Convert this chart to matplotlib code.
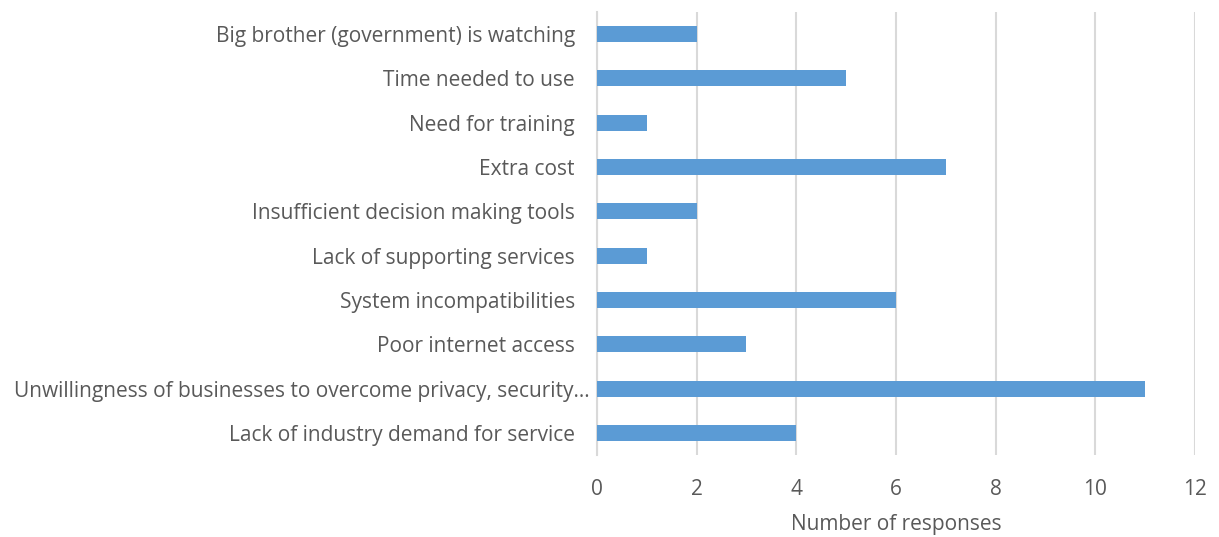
import matplotlib
matplotlib.use("Agg")
import matplotlib.pyplot as plt
import matplotlib.transforms as mtransforms

# survey: barriers to adopting the service (listed bottom to top)
barriers = [
    "Lack of industry demand for service",
    "Unwillingness of businesses to overcome privacy, security\u2026",
    "Poor internet access",
    "System incompatibilities",
    "Lack of supporting services",
    "Insufficient decision making tools",
    "Extra cost",
    "Need for training",
    "Time needed to use",
    "Big brother (government) is watching",
]
responses = [4, 11, 3, 6, 1, 2, 7, 1, 5, 2]
x_ticks = [0, 2, 4, 6, 8, 10, 12]

TEXT = "#595959"
BAR = "#5B9BD5"
GRID = "#D9D9D9"

plt.rcParams["font.family"] = ["Open Sans", "DejaVu Sans"]

fig = plt.figure(figsize=(12.19, 5.37), dpi=100)
ax = fig.add_axes([0.4897, 0.1527, 0.4906, 0.825])

pos = list(range(len(barriers)))
ax.barh(pos, responses, height=0.36, color=BAR, zorder=3)

ax.set_ylim(-0.5, len(barriers) - 0.5)
ax.set_xlim(0, 12)
ax.set_xticks(x_ticks)
ax.set_yticks(pos)
ax.set_yticklabels(barriers)

ax.grid(axis="x", color=GRID, linewidth=1.5, zorder=0)
for side in ("top", "right", "bottom"):
    ax.spines[side].set_visible(False)
ax.spines["left"].set_color(GRID)
ax.spines["left"].set_linewidth(1.5)

ax.tick_params(axis="y", length=0, pad=5, labelsize=15, labelcolor=TEXT)
ax.tick_params(axis="x", length=0, pad=17, labelsize=15, labelcolor=TEXT)

# full labels sit a bit further from the axis than the truncated one
shift = mtransforms.ScaledTranslation(-15 / 100, 0, fig.dpi_scale_trans)
for lbl in ax.get_yticklabels():
    if not lbl.get_text().endswith("\u2026"):
        lbl.set_transform(lbl.get_transform() + shift)

ax.set_xlabel("Number of responses", fontsize=15, color=TEXT, labelpad=10)

fig.savefig("out.png", dpi=100)
